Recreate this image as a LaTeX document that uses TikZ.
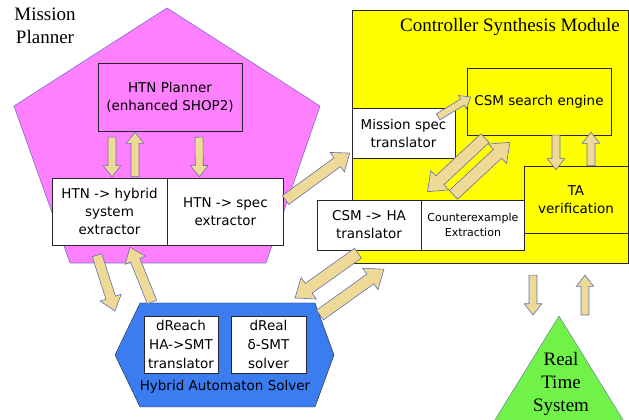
\documentclass[tikz,border=0pt]{standalone}
\usepackage{fontspec}
\setmainfont{Liberation Serif}
\newfontfamily\boxfont{DejaVu Sans}
\usepackage{xcolor}
\usepackage{tikz}
\usetikzlibrary{calc, positioning}

\definecolor{planpink}{RGB}{255,128,255}
\definecolor{pentedge}{RGB}{120,110,200}
\definecolor{synthyellow}{RGB}{255,255,0}
\definecolor{solverblue}{RGB}{59,125,240}
\definecolor{rtsgreen}{RGB}{112,242,72}
\definecolor{arrowtan}{RGB}{238,217,150}
\definecolor{arrowedge}{RGB}{100,110,175}

% block arrow: [shaft width]{from}{to}
\newcommand{\fatarrow}[3][8]{%
  \filldraw[fatarr] let \p1=#2, \p2=#3,
      \n1={atan2(\y2-\y1,\x2-\x1)}, \n2={veclen(\x2-\x1,\y2-\y1)},
      \n3={#1*0.5pt}, \n4={#1*1.1pt}, \n5={#1*1.4pt} in
    [shift={(\p1)}, rotate={\n1}]
    (0pt,-\n3) -- ({\n2-\n5},-\n3) -- ({\n2-\n5},-\n4) -- (\n2,0pt)
    -- ({\n2-\n5},\n4) -- ({\n2-\n5},\n3) -- (0pt,\n3) -- cycle;}

\begin{document}
\begin{tikzpicture}[x=1pt, y=1pt,
    box/.style={draw=black!85, fill=white, inner sep=0pt, align=center,
        font=\boxfont\fontsize{13.5}{18}\selectfont},
    title/.style={align=center, font=\fontsize{19}{23}\selectfont},
    fatarr/.style={fill=arrowtan, draw=arrowedge, line width=0.6pt}]

    \useasboundingbox (0,0) rectangle (629,420);

    % 1. Mission Planner
    \draw[fill=planpink, draw=pentedge, line width=0.6pt]
        (167,412) -- (320,314) -- (266,157) -- (70,157) -- (14,314) -- cycle;
    \node[title] (mp) at (45,394) {Mission\\Planner};
    \node[box, fill=planpink, minimum width=144pt, minimum height=68pt] (planner) at (170,323) {HTN Planner\\(enhanced SHOP2)};
    \node[box, minimum width=115pt, minimum height=67pt] (hybrid) at (109.5,208.5) {HTN -> hybrid\\system\\extractor};
    \node[box, minimum width=116pt, minimum height=67pt, right=0pt of hybrid] (spec) {HTN -> spec\\extractor};

    % 2. Controller Synthesis Module
    \node[draw=black!85, fill=synthyellow, minimum width=276pt, minimum height=253pt, inner sep=0pt] (synth) at (490,283.5) {};
    \node[title] (cst) at (510,393) {Controller Synthesis Module};
    \node[box, fill=synthyellow, minimum width=144pt, minimum height=67pt] (csm) at (539,318.5) {CSM search engine};
    \node[box, minimum width=103pt, minimum height=50pt] (msnspec) at (403.5,287) {Mission spec\\translator};
    \node[box, minimum width=104pt, minimum height=50pt] (csmha) at (369,195) {CSM -> HA\\translator};
    \node[box, minimum width=103pt, minimum height=50pt, right=0pt of csmha,
        font=\boxfont\fontsize{11}{15}\selectfont] (cex) {Counterexample\\Extraction};
    \node[box, fill=synthyellow, minimum width=104pt, minimum height=67pt] (ta) at (576,220.5) {TA\\verification};

    % 3. Hybrid Automaton Solver
    \coordinate (hexnw) at (140,117);
    \coordinate (hexne) at (315,117);
    \draw[fill=solverblue, draw=black!85] (hexnw) -- (hexne) -- (334,65) -- (315,13) -- (140,13) -- (115,65) -- cycle;
    \node[box, minimum width=74pt, minimum height=57pt, font=\boxfont\fontsize{13.5}{19}\selectfont] (dreach) at (181,75.5) {dReach\\HA->SMT\\translator};
    \node[box, minimum width=75pt, minimum height=57pt, font=\boxfont\fontsize{13.5}{19}\selectfont] (dreal) at (268.5,75.5) {dReal\\δ-SMT\\solver};
    \node[font=\boxfont\fontsize{13.5}{16}\selectfont] (has) at (225,33) {Hybrid Automaton Solver};

    % 4. Real Time System
    \coordinate (rtstop) at (559,104);
    \draw[fill=rtsgreen, draw=arrowedge] (rtstop) -- (625,-3) -- (493,-3) -- cycle;
    \node[title] (rts) at (561,36) {Real\\Time\\System};

    % 5. Block arrows
    \fatarrow{([xshift=-58pt,yshift=-6pt]planner.south)}{([xshift=2.5pt,yshift=1pt]hybrid.north)}
    \fatarrow{([xshift=25.5pt,yshift=1pt]hybrid.north)}{([xshift=-35pt,yshift=-1pt]planner.south)}
    \fatarrow{([xshift=29pt,yshift=-6pt]planner.south)}{([xshift=-26pt,yshift=1pt]spec.north)}
    \fatarrow[11]{([xshift=2pt,yshift=11.5pt]spec.east)}{([xshift=-2pt,yshift=-20pt]msnspec.west)}
    \fatarrow[7]{([xshift=-17pt,yshift=-9pt]msnspec.north east)}{([xshift=4pt,yshift=4.5pt]csm.west)}
    \fatarrow[12]{([xshift=-54pt,yshift=-3pt]csm.south)}{([xshift=-45.5pt,yshift=8pt]cex.north)}
    \fatarrow[12]{([xshift=-19.5pt,yshift=5pt]cex.north)}{([xshift=-29pt,yshift=-7pt]csm.south)}
    \fatarrow{([xshift=17pt]csm.south)}{([xshift=-20pt,yshift=-4pt]ta.north)}
    \fatarrow{([xshift=15pt]ta.north)}{([xshift=52pt,yshift=3pt]csm.south)}
    \fatarrow[10]{([xshift=-12.5pt,yshift=-10pt]hybrid.south)}{([xshift=-25pt,yshift=-8pt]hexnw)}
    \fatarrow[10]{([xshift=12pt,yshift=1pt]hexnw)}{([xshift=20.5pt,yshift=-2pt]hybrid.south)}
    \fatarrow[12]{([xshift=-11pt,yshift=-3pt]csmha.south)}{([xshift=-20pt,yshift=5pt]hexne)}
    \fatarrow[12]{([xshift=5pt,yshift=-12pt]hexne)}{([xshift=15pt,yshift=-19pt]csmha.south)}
    \fatarrow{([xshift=43pt,yshift=-12pt]synth.south)}{([xshift=-26pt,yshift=1pt]rtstop)}
    \fatarrow{([xshift=26pt,yshift=1pt]rtstop)}{([xshift=95pt,yshift=-12pt]synth.south)}
\end{tikzpicture}
\end{document}
